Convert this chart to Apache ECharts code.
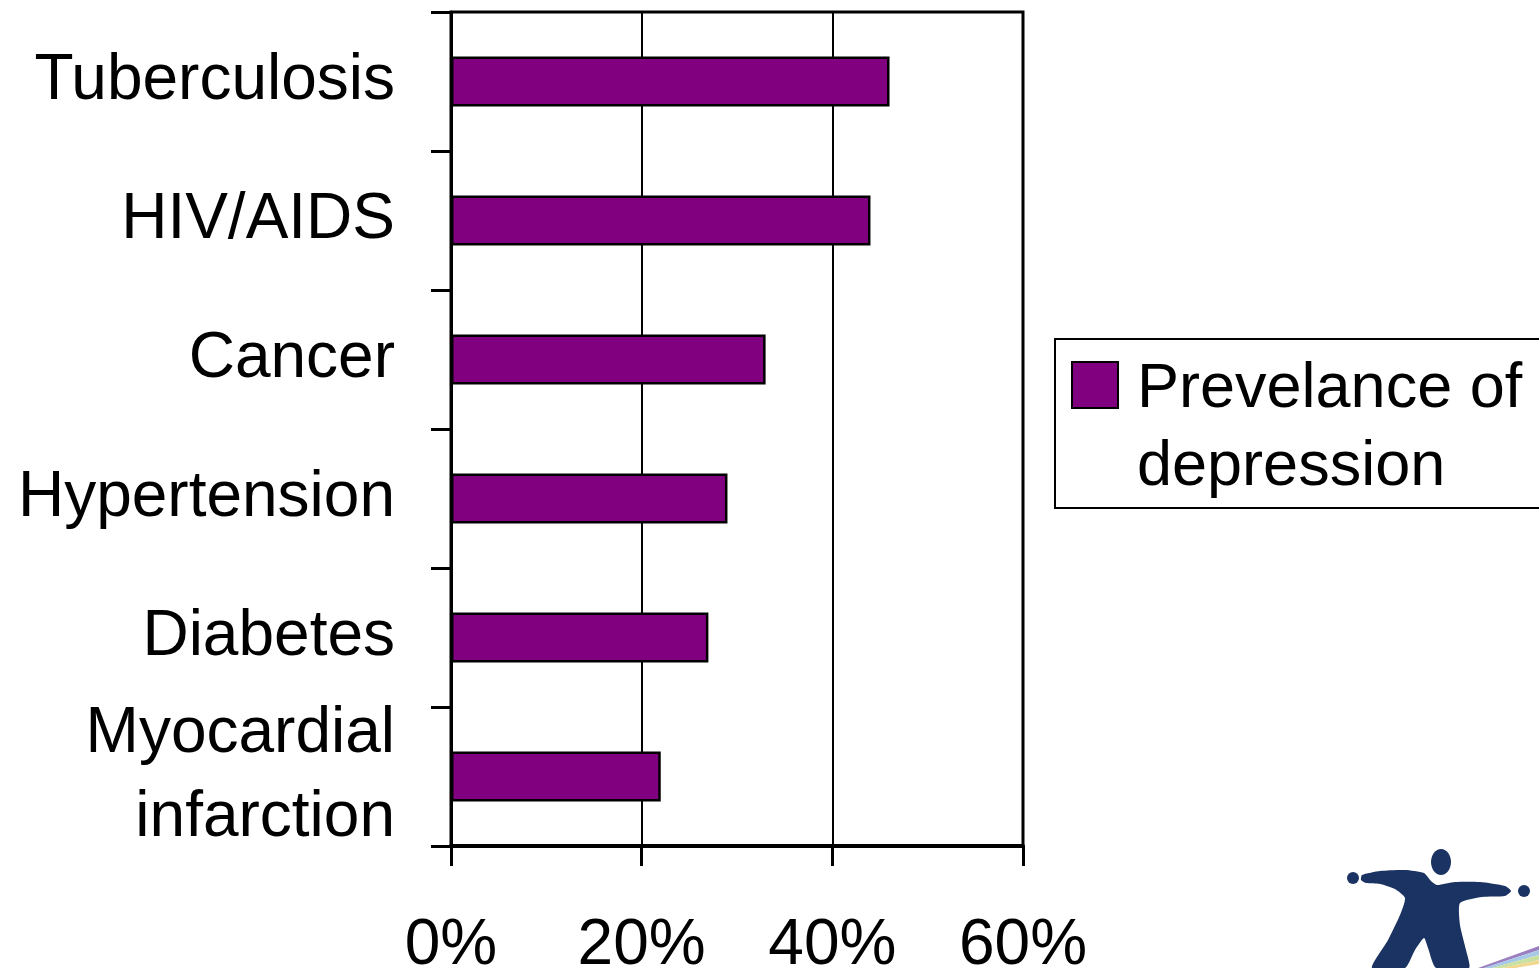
<!DOCTYPE html>
<html>
<head>
<meta charset="utf-8">
<script src="https://cdn.jsdelivr.net/npm/echarts@6/dist/echarts.min.js"></script>
<style>
html,body{margin:0;padding:0;background:#fff;}
#chart{width:1539px;height:968px;}
</style>
</head>
<body>
<div id="chart"></div>
<script>
const categories = ['Tuberculosis', 'HIV/AIDS', 'Cancer', 'Hypertension', 'Diabetes', 'Myocardial\ninfarction'];
const prevalence = [46, 44, 33, 29, 27, 22];
const seriesName = 'Prevelance of depression';
const legendLines = ['Prevelance of', 'depression'];
const xTicks = { min: 0, max: 60, interval: 20 };

const FONT = '"Liberation Sans", Arial, sans-serif';
const chart = echarts.init(document.getElementById('chart'));

const option = {
  backgroundColor: '#fff',
  animation: false,
  grid: {
    left: 451, right: 516, top: 12, bottom: 122,
    outerBoundsMode: 'none',
    containLabel: false,
    show: true, borderColor: '#000', borderWidth: 3
  },
  legend: {
    show: true,
    left: 1071,
    top: 263,
    padding: 0,
    itemWidth: 46,
    itemHeight: 46,
    itemGap: 0,
    icon: 'rect',
    itemStyle: { borderColor: '#000', borderWidth: 2 },
    formatter: function () {
      return '{e| }\n' + legendLines.map(function (l) { return '{t|' + l + '}'; }).join('\n');
    },
    textStyle: {
      fontFamily: FONT, fontSize: 63, color: '#000', lineHeight: 78,
      rich: {
        e: { fontFamily: FONT, fontSize: 10, lineHeight: 88 },
        t: { fontFamily: FONT, fontSize: 63, color: '#000', lineHeight: 78, padding: [0, 0, 0, 14] }
      }
    },
    data: [seriesName]
  },
  xAxis: {
    type: 'value',
    min: xTicks.min, max: xTicks.max, interval: xTicks.interval,
    axisLine: { show: true, lineStyle: { color: '#000', width: 4 } },
    axisTick: { show: true, inside: false, length: 20, lineStyle: { color: '#000', width: 3 } },
    axisLabel: { formatter: '{value}%', fontFamily: FONT, fontSize: 64, color: '#000', margin: 68 },
    splitLine: { show: true, lineStyle: { color: '#000', width: 2 } }
  },
  yAxis: {
    type: 'category',
    inverse: true,
    data: categories,
    axisLine: { show: true, lineStyle: { color: '#000', width: 3 } },
    axisTick: { show: true, inside: false, length: 20, alignWithLabel: false, lineStyle: { color: '#000', width: 3 } },
    axisLabel: { fontFamily: FONT, fontSize: 64, color: '#000', margin: 56, lineHeight: 84 },
    splitLine: { show: false }
  },
  series: [{
    name: seriesName,
    type: 'bar',
    data: prevalence,
    barWidth: 50,
    itemStyle: { color: '#800080', borderColor: '#000', borderWidth: 2.5 }
  }],
  graphic: [
    {
      type: 'rect',
      shape: { x: 1055, y: 339, width: 520, height: 169 },
      style: { fill: 'none', stroke: '#000', lineWidth: 2 },
      silent: true
    },
    {
      type: 'group',
      silent: true,
      children: [
        { type: 'ellipse', shape: { cx: 1441, cy: 862, rx: 10, ry: 13 }, style: { fill: '#1b3363' } },
        { type: 'circle', shape: { cx: 1353, cy: 878, r: 6 }, style: { fill: '#1b3363' } },
        { type: 'circle', shape: { cx: 1524, cy: 891, r: 6 }, style: { fill: '#1b3363' } },
        { type: 'polygon', shape: { smooth: 0.2, points: [
            [1362,875],[1380,871],[1405,870],[1424,873],[1431,881],[1437,885],
            [1455,882],[1480,882],[1505,886],[1511,891],[1505,896],[1482,897],
            [1460,903],[1460,925],[1466,950],[1469,968],[1436,968],[1428,948],
            [1424,938],[1415,950],[1405,968],[1372,968],[1388,940],[1400,915],
            [1405,898],[1395,889],[1380,884],[1366,883],[1361,880]
          ] }, style: { fill: '#1b3363' } },
        { type: 'polygon', shape: { points: [[1478,968],[1539,946],[1539,950],[1484,968]] }, style: { fill: '#9b7fc0' } },
        { type: 'polygon', shape: { points: [[1484,968],[1539,950],[1539,955],[1492,968]] }, style: { fill: '#a8c8e8' } },
        { type: 'polygon', shape: { points: [[1492,968],[1539,955],[1539,960],[1502,968]] }, style: { fill: '#c8e0a0' } },
        { type: 'polygon', shape: { points: [[1502,968],[1539,960],[1539,964],[1515,968]] }, style: { fill: '#f0d890' } }
      ]
    }
  ]
};
chart.setOption(option);
</script>
</body>
</html>
